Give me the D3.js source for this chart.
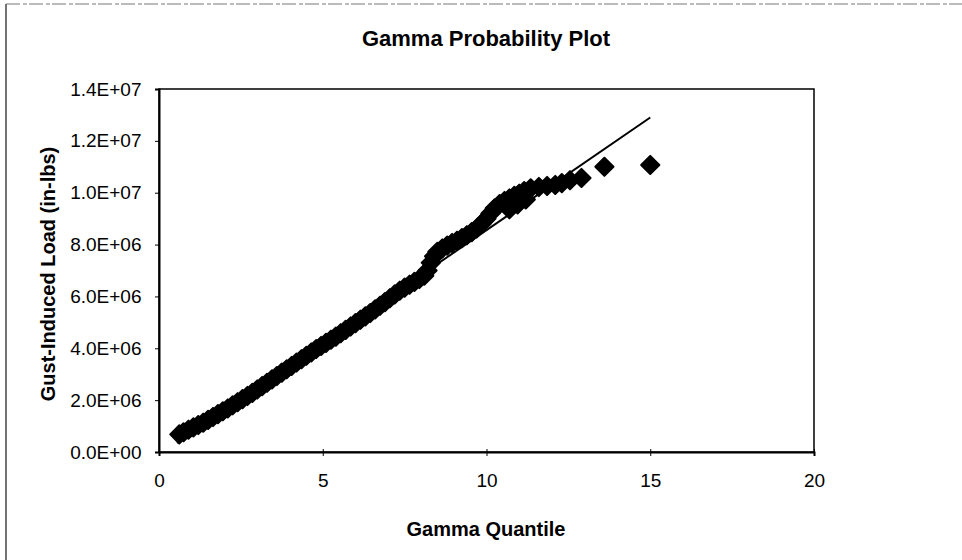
<!DOCTYPE html>
<html>
<head>
<meta charset="utf-8">
<script src="https://cdn.jsdelivr.net/npm/d3@7"></script>
<style>
  body { margin: 0; background: #fff; }
  text { font-family: "Liberation Sans", Arial, sans-serif; fill: #000; }
</style>
</head>
<body>
<div id="chart"></div>
<script>
// gamma quantile (x) and gust-induced load in millions of in-lbs (y)
var quantile = [0.62, 0.75, 0.9, 1.05, 1.2, 1.35, 1.5, 1.65, 1.8, 1.95, 2.1, 2.25, 2.4, 2.55, 2.7, 2.85,
  3.0, 3.15, 3.3, 3.45, 3.6, 3.75, 3.9, 4.05, 4.2, 4.35, 4.5, 4.65, 4.8, 4.95, 5.1, 5.25, 5.4, 5.55,
  5.7, 5.85, 6.0, 6.15, 6.3, 6.45, 6.6, 6.75, 6.9, 7.05, 7.2, 7.35, 7.5, 7.65, 7.8, 7.95, 8.1, 8.2,
  8.3, 8.4, 8.5, 8.65, 8.8, 8.95, 9.1, 9.25, 9.4, 9.55, 9.7, 9.85, 10.0, 10.12, 10.25, 10.4, 10.55,
  10.7, 10.7, 10.85, 10.95, 11.0, 11.15, 11.2, 11.35, 11.6, 11.85, 12.1, 12.3, 12.55, 12.9, 13.6, 15.0];
var loadM = [0.68, 0.76, 0.86, 0.95, 1.04, 1.13, 1.24, 1.35, 1.46, 1.57, 1.68, 1.80, 1.92, 2.04, 2.16, 2.28,
  2.41, 2.54, 2.67, 2.80, 2.93, 3.06, 3.19, 3.32, 3.45, 3.58, 3.71, 3.84, 3.97, 4.09, 4.21, 4.33, 4.45, 4.58,
  4.71, 4.84, 4.97, 5.10, 5.23, 5.36, 5.50, 5.64, 5.78, 5.93, 6.08, 6.22, 6.34, 6.45, 6.56, 6.67, 6.80, 7.00,
  7.30, 7.55, 7.72, 7.85, 7.96, 8.06, 8.15, 8.25, 8.36, 8.48, 8.62, 8.80, 9.00, 9.20, 9.40, 9.56, 9.68,
  9.78, 9.36, 9.88, 9.55, 9.96, 10.06, 9.74, 10.17, 10.22, 10.26, 10.30, 10.37, 10.48, 10.57, 11.00, 11.07];

// fitted gamma line end points
var fitX = [0.55, 15.0];
var fitY = [0.35e6, 12.9e6];

var xTicks = [0, 5, 10, 15, 20];
var yTicks = [0, 2e6, 4e6, 6e6, 8e6, 10e6, 12e6, 14e6];
var yTickLabels = ['0.0E+00', '2.0E+06', '4.0E+06', '6.0E+06', '8.0E+06', '1.0E+07', '1.2E+07', '1.4E+07'];

var W = 962, H = 560;
var plot = { left: 159, right: 814, top: 89, bottom: 452 };

var svg = d3.select('#chart').append('svg')
    .attr('width', W)
    .attr('height', H)
    .style('display', 'block');

svg.append('rect').attr('width', W).attr('height', H).attr('fill', '#fff');

// scanned frame edges
svg.append('line')
    .attr('x1', 6).attr('x2', 6).attr('y1', 4).attr('y2', H)
    .attr('stroke', '#444').attr('stroke-width', 1.5);
svg.append('line')
    .attr('x1', 6).attr('x2', W).attr('y1', 4).attr('y2', 4)
    .attr('stroke', '#777').attr('stroke-width', 1)
    .attr('stroke-dasharray', '14,3,4,2');

var x = d3.scaleLinear().domain([0, 20]).range([plot.left, plot.right]);
var y = d3.scaleLinear().domain([0, 14e6]).range([plot.bottom, plot.top]);

svg.append('text')
    .attr('x', 486).attr('y', 46)
    .attr('text-anchor', 'middle')
    .style('font-size', '22px').style('font-weight', 'bold')
    .text('Gamma Probability Plot');

// plot box
svg.append('rect')
    .attr('x', plot.left).attr('y', plot.top)
    .attr('width', plot.right - plot.left).attr('height', plot.bottom - plot.top)
    .attr('fill', 'none').attr('stroke', '#000').attr('stroke-width', 1.5);

var yAxis = svg.append('g')
    .attr('transform', 'translate(' + plot.left + ',0)')
    .call(d3.axisLeft(y).tickValues(yTicks).tickSize(4).tickPadding(13.5)
      .tickFormat(function(d, i) { return yTickLabels[i]; }));

var xAxis = svg.append('g')
    .attr('transform', 'translate(0,' + plot.bottom + ')')
    .call(d3.axisBottom(x).tickValues(xTicks).tickSize(4).tickPadding(18));

[yAxis, xAxis].forEach(function(a) {
  a.select('.domain').attr('stroke', '#000').attr('stroke-width', 2);
  a.selectAll('.tick line').attr('stroke', '#000').attr('stroke-width', 1);
  a.selectAll('.tick text')
    .style('font-family', '"Liberation Sans", Arial, sans-serif')
    .style('font-size', '19px').attr('fill', '#000');
});
// x ticks also poke a little into the plot
xAxis.selectAll('.tick line').attr('y1', -3);

// fitted line
svg.append('line')
    .attr('x1', x(fitX[0])).attr('y1', y(fitY[0]))
    .attr('x2', x(fitX[1])).attr('y2', y(fitY[1]))
    .attr('stroke', '#000').attr('stroke-width', 2);

// data points as diamonds
var points = quantile.map(function(q, i) { return { q: q, v: loadM[i] * 1e6 }; });
var diamond = d3.symbol().type(d3.symbolSquare).size(165);

svg.append('g').selectAll('path.pt')
    .data(points)
  .enter().append('path')
    .attr('class', 'pt')
    .attr('d', diamond)
    .attr('transform', function(d) { return 'translate(' + x(d.q) + ',' + y(d.v) + ') rotate(45)'; })
    .attr('fill', '#000')
    .attr('stroke', '#000')
    .attr('stroke-width', 2)
    .attr('stroke-linejoin', 'round');

svg.append('text')
    .attr('x', 486).attr('y', 536)
    .attr('text-anchor', 'middle')
    .style('font-size', '20px').style('font-weight', 'bold')
    .text('Gamma Quantile');

svg.append('text')
    .attr('transform', 'translate(55,274) rotate(-90)')
    .attr('text-anchor', 'middle')
    .style('font-size', '20px').style('font-weight', 'bold')
    .text('Gust-Induced Load (in-lbs)');
</script>
</body>
</html>
